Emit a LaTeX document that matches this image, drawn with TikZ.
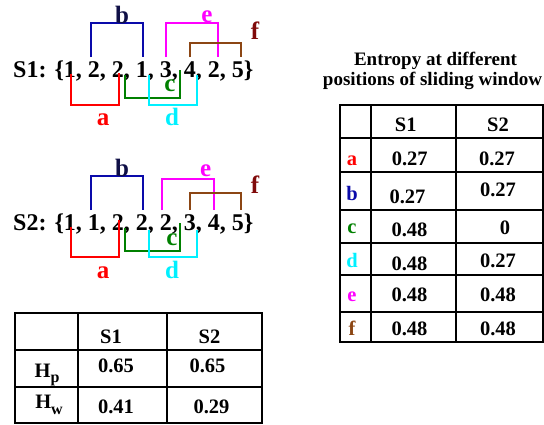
\documentclass[tikz,border=0pt]{standalone}
\usepackage{fontspec}
\setmainfont{Liberation Serif}
\definecolor{wa}{RGB}{255,0,0}
\definecolor{wb}{RGB}{10,10,170}
\definecolor{wblbl}{RGB}{15,15,70}
\definecolor{wc}{RGB}{0,128,0}
\definecolor{wd}{RGB}{0,240,255}
\definecolor{we}{RGB}{255,0,255}
\definecolor{wf}{RGB}{140,70,20}
\definecolor{wflbl}{RGB}{128,10,10}
\begin{document}
\begin{tikzpicture}[x=1pt,y=-1pt,
  seq/.style={font=\fontsize{24}{28}\selectfont\bfseries, inner sep=0pt, anchor=base west},
  lbl/.style={font=\fontsize{25}{28}\selectfont\bfseries, inner sep=0pt, anchor=base},
  win/.style={line width=2pt, line join=miter},
  grid/.style={line width=1.8pt, black, line cap=rect},
  cell/.style={font=\fontsize{20.5}{24}\selectfont\bfseries, inner sep=0pt, anchor=base},
  ttl/.style={font=\fontsize{19}{22}\selectfont\bfseries, inner sep=0pt, anchor=base}]
\useasboundingbox (0,0) rectangle (544,424);

% ---------- sequence S1 with its sliding windows ----------
\node[seq] (s1) at (13,77) {S1: \{1, 2, 2, 1, 3, 4, 2, 5\}};
\draw[win, wb] (91,57) -- (91,22.7) -- (142.7,22.7) -- (142.7,57);
\draw[win, we] (166,57) -- (166,22.7) -- (217.7,22.7) -- (217.7,57);
\draw[win, wf] (190,57) -- (190,42.7) -- (241,42.7) -- (241,57);
\draw[win, wa] (70.7,74) -- (70.7,105) -- (119,105) -- (119,73);
\draw[win, wc] (125,75) -- (125,97.7) -- (180,97.7) -- (180,70);
\draw[win, wd] (149,75) -- (149,105) -- (197,105) -- (197,75);
\node[lbl, wblbl] (s1b) at (122,23.5) {b};
\node[lbl, we] (s1e) at (207,22) {e};
\node[lbl, wflbl] (s1f) at (255,39.5) {f};
\node[lbl, wa] (s1a) at (103,125) {a};
\node[lbl, wc] (s1c) at (170,91.7) {c};
\node[lbl, wd] (s1d) at (172,125) {d};

% ---------- sequence S2 with its sliding windows ----------
\node[seq] (s2) at (13,230) {S2: \{1, 1, 2, 2, 2, 3, 4, 5\}};
\draw[win, wb] (91,210) -- (91,175.7) -- (142.7,175.7) -- (142.7,210);
\draw[win, we] (162.3,210) -- (162.3,179.3) -- (214,179.3) -- (214,210);
\draw[win, wf] (190,210) -- (190,192.7) -- (241,192.7) -- (241,210);
\draw[win, wa] (70.7,227) -- (70.7,257.3) -- (119,257.3) -- (119,220);
\draw[win, wc] (125,228) -- (125,250.7) -- (180,250.7) -- (180,222.7);
\draw[win, wd] (149,230) -- (149,257.3) -- (197,257.3) -- (197,230);
\node[lbl, wblbl] (s2b) at (122,176) {b};
\node[lbl, we] (s2e) at (205.7,176) {e};
\node[lbl, wflbl] (s2f) at (255,193) {f};
\node[lbl, wa] (s2a) at (103,278) {a};
\node[lbl, wc] (s2c) at (172,245) {c};
\node[lbl, wd] (s2d) at (172,278) {d};

% ---------- summary table: H_p and H_w ----------
\draw[grid] (15,312.7) rectangle (261.7,423);
\draw[grid] (78.3,312.7) -- (78.3,423);
\draw[grid] (166.7,312.7) -- (166.7,423);
\draw[grid] (15,350) -- (261.7,350);
\draw[grid] (15,387.3) -- (261.7,387.3);
\node[cell] (hS1) at (111,343.3) {S1};
\node[cell] (hS2) at (209.5,343.3) {S2};
\node[cell] (hp) at (47,377) {H\raisebox{-5pt}{\fontsize{16}{18}\selectfont p}};
\node[cell] (hw) at (49,408) {H\raisebox{-6pt}{\fontsize{16}{18}\selectfont w}};
\node[cell] (hp1) at (116,372.7) {0.65};
\node[cell] (hp2) at (207.5,372.7) {0.65};
\node[cell] (hw1) at (116,413.3) {0.41};
\node[cell] (hw2) at (211.5,413.3) {0.29};

% ---------- entropy per window position ----------
\node[ttl] (t1) at (435.5,65) {Entropy at different};
\node[ttl] (t2) at (432.5,85) {positions of sliding window};
\draw[grid] (340,105) rectangle (542.8,341.7);
\draw[grid] (370.7,105) -- (370.7,341.7);
\draw[grid] (456,105) -- (456,341.7);
\foreach \yy in {138.3,171.7,210,243.3,275,311.7}
  \draw[grid] (340,\yy) -- (542.8,\yy);
\node[cell] (eS1) at (405.8,131) {S1};
\node[cell] (eS2) at (498,131) {S2};
\node[cell, wa] (ra) at (352,165.7) {a};
\node[cell, wb] (rb) at (352,200.7) {b};
\node[cell, wc] (rc) at (352,233) {c};
\node[cell, wd] (rd) at (352,267.7) {d};
\node[cell, we] (re) at (352,301.7) {e};
\node[cell, wf] (rf) at (352,335.7) {f};
\node[cell] (a1) at (409.7,165.7) {0.27};
\node[cell] (a2) at (497,165.7) {0.27};
\node[cell] (b1) at (407.5,203) {0.27};
\node[cell] (b2) at (498,196.7) {0.27};
\node[cell] (c1) at (409.5,236.7) {0.48};
\node[cell] (c2) at (505,234) {0};
\node[cell] (d1) at (409.5,270) {0.48};
\node[cell] (d2) at (498,267) {0.27};
\node[cell] (e1) at (409.5,301.7) {0.48};
\node[cell] (e2) at (498,301.7) {0.48};
\node[cell] (f1) at (409.5,335.7) {0.48};
\node[cell] (f2) at (498,335.7) {0.48};
\end{tikzpicture}
\end{document}
